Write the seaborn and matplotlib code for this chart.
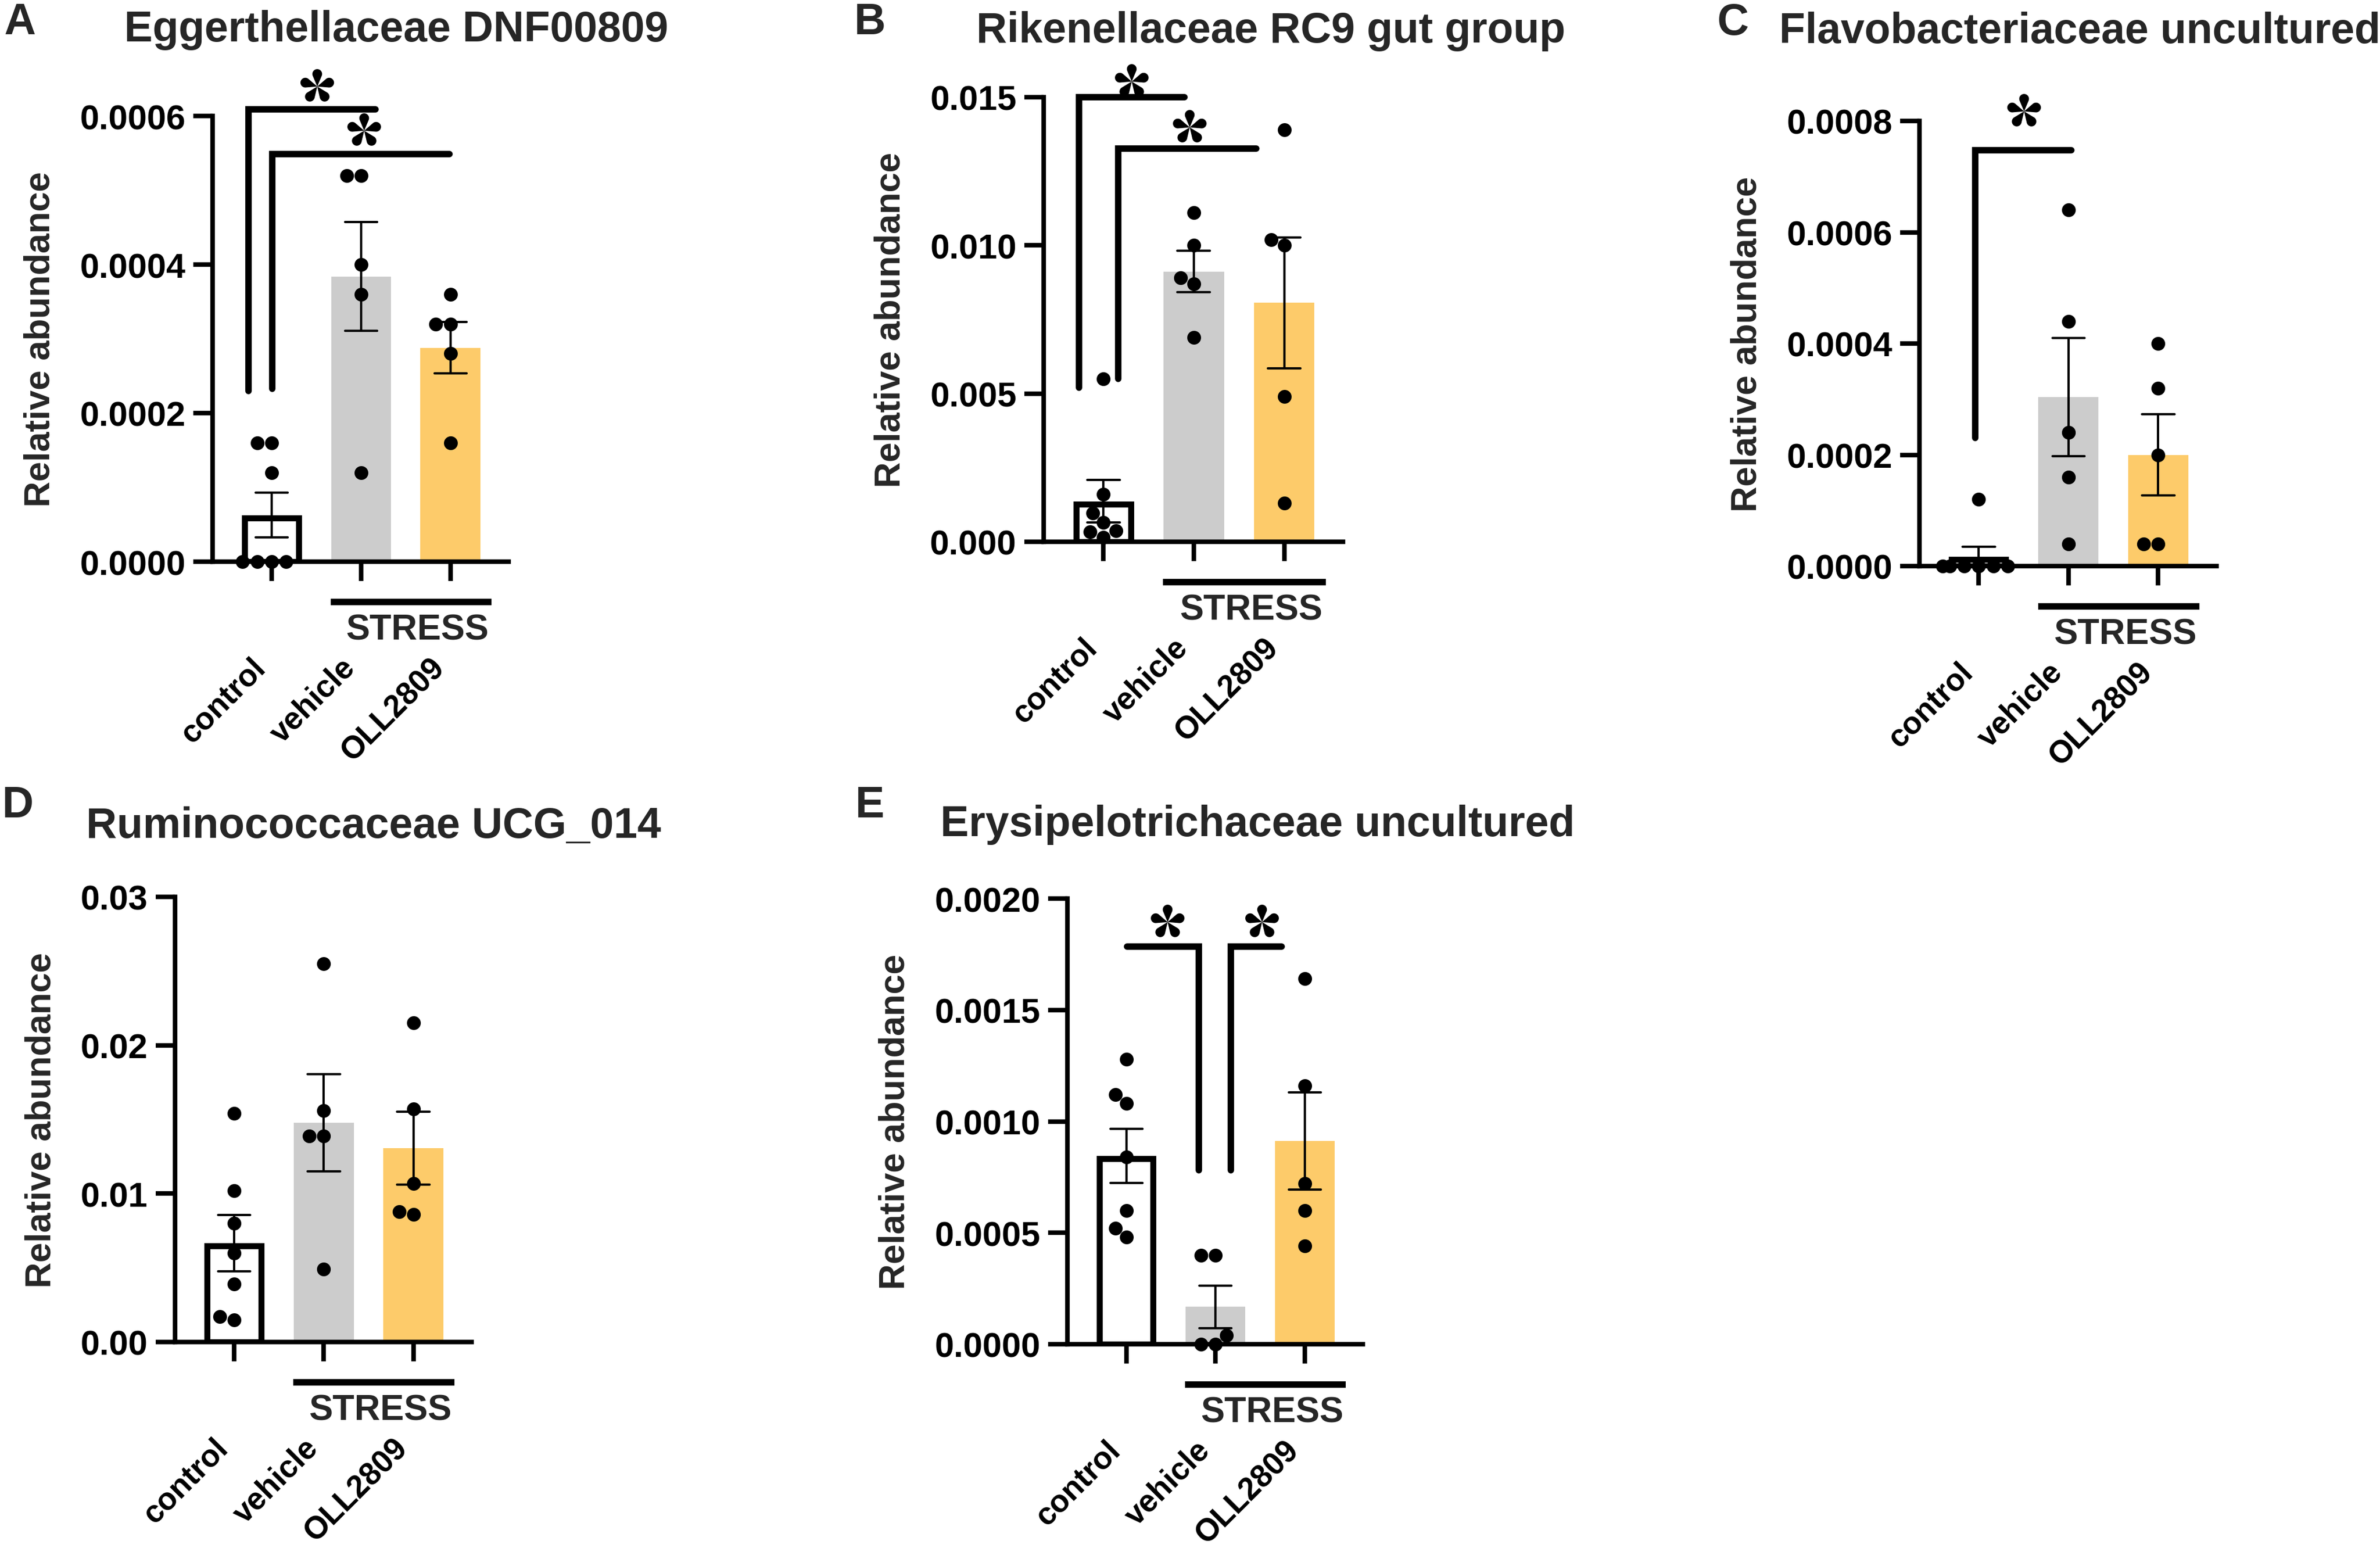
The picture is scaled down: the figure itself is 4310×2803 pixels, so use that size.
import numpy as np
import pandas as pd
import matplotlib
matplotlib.use("Agg")
import matplotlib.pyplot as plt
import seaborn as sns
from matplotlib.path import Path
from matplotlib.transforms import ScaledTranslation
from matplotlib.ticker import FormatStrFormatter

sns.set_style("ticks")
plt.rcParams["font.family"] = ["Liberation Sans", "DejaVu Sans"]
plt.rcParams["font.weight"] = "bold"
plt.rcParams["axes.labelweight"] = "bold"

groups = ["control", "vehicle", "OLL2809"]
bar_colors = {"control": "white", "vehicle": "#cccccc", "OLL2809": "#fdcb6a"}

# relative abundance per mouse
eggerth_control = [0, 0, 0, 0, 0.00012, 0.00016, 0.00016]
eggerth_vehicle = [0.00052, 0.00052, 0.0004, 0.00036, 0.00012]
eggerth_oll = [0.00036, 0.00032, 0.00032, 0.00028, 0.00016]

rikenell_control = [0.0055, 0.0016, 0.00097, 0.00065, 0.00037, 0.00034, 0.00015]
rikenell_vehicle = [0.0111, 0.0100, 0.0089, 0.0087, 0.0069]
rikenell_oll = [0.0139, 0.0102, 0.0100, 0.0049, 0.0013]

flavo_control = [0.00012, 0, 0, 0, 0, 0, 0]
flavo_vehicle = [0.00064, 0.00044, 0.00024, 0.00016, 0.00004]
flavo_oll = [0.0004, 0.00032, 0.0002, 0.00004, 0.00004]

rumino_control = [0.0154, 0.0102, 0.0080, 0.0060, 0.0039, 0.0017, 0.0015]
rumino_vehicle = [0.0255, 0.0156, 0.0139, 0.0139, 0.0049]
rumino_oll = [0.0215, 0.0157, 0.0107, 0.0088, 0.0086]

erysip_control = [0.00128, 0.00112, 0.00108, 0.00084, 0.0006, 0.00052, 0.00048]
erysip_vehicle = [0.0004, 0.0004, 0.00004, 0, 0]
erysip_oll = [0.00164, 0.00116, 0.00072, 0.0006, 0.00044]

W, H, DPI = 4310, 2804, 300

# significance brackets: (polyline xs, polyline ys, star x, star y)
panels = [
    dict(letter="A", title="Eggerthellaceae DNF00809",
         values=[eggerth_control, eggerth_vehicle, eggerth_oll],
         yticks=[0, 0.0002, 0.0004, 0.0006], fmt="%.4f",
         box=(385, 211, 921, 1018), title_xy=(718, 75), letter_xy=(36, 62),
         brackets=[([-0.26, -0.26, 1.16], [0.00023, 0.000609, 0.000609], 0.51, 0.000642),
                   ([0.01, 0.01, 1.99], [0.000233, 0.000549, 0.000549], 1.03, 0.000582)]),
    dict(letter="B", title="Rikenellaceae RC9 gut group",
         values=[rikenell_control, rikenell_vehicle, rikenell_oll],
         yticks=[0, 0.005, 0.010, 0.015], fmt="%.3f",
         box=(1890, 177, 2432, 982), title_xy=(2301, 77), letter_xy=(1575, 62),
         brackets=[([-0.27, -0.27, 0.90], [0.0052, 0.015, 0.015], 0.31, 0.01558),
                   ([0.165, 0.165, 1.69], [0.0055, 0.01327, 0.01327], 0.95, 0.01404)]),
    dict(letter="C", title="Flavobacteriaceae uncultured",
         values=[flavo_control, flavo_vehicle, flavo_oll],
         yticks=[0, 0.0002, 0.0004, 0.0006, 0.0008], fmt="%.4f",
         box=(3476, 220, 4014, 1026), title_xy=(3766, 78), letter_xy=(3138, 63),
         brackets=[([-0.04, -0.04, 1.03], [0.00023, 0.000747, 0.000747], 0.50, 0.00082)]),
    dict(letter="D", title="Ruminococcaceae UCG_014",
         values=[rumino_control, rumino_vehicle, rumino_oll],
         yticks=[0, 0.01, 0.02, 0.03], fmt="%.2f",
         box=(317, 1625, 854, 2431), title_xy=(677, 1517), letter_xy=(32, 1480),
         brackets=[]),
    dict(letter="E", title="Erysipelotrichaceae uncultured",
         values=[erysip_control, erysip_vehicle, erysip_oll],
         yticks=[0, 0.0005, 0.0010, 0.0015, 0.0020], fmt="%.4f",
         box=(1933, 1628, 2468, 2435), title_xy=(2277, 1514), letter_xy=(1575, 1480),
         brackets=[([0.01, 0.81, 0.81], [0.001784, 0.001784, 0.00078], 0.46, 0.0019),
                   ([1.17, 1.17, 1.74], [0.00078, 0.001784, 0.001784], 1.52, 0.0019)]),
]


def petal_star(n=5, d=0.72, rad=0.28, npts=32):
    # asterisk built from teardrop petals, centred on its bounding box
    verts, codes = [], []
    a = np.arcsin(rad / d)
    for k in range(n):
        th = np.pi / 2 + 2 * np.pi * k / n
        c = d * np.array([np.cos(th), np.sin(th)])
        phis = np.linspace(th - np.pi / 2 - a, th + np.pi / 2 + a, npts)
        arc = c + rad * np.column_stack([np.cos(phis), np.sin(phis)])
        pts = [(0.0, 0.0)] + [tuple(q) for q in arc] + [(0.0, 0.0)]
        verts += pts
        codes += [Path.MOVETO] + [Path.LINETO] * (len(pts) - 2) + [Path.CLOSEPOLY]
    verts = np.array(verts)
    centre = (verts.min(axis=0) + verts.max(axis=0)) / 2
    return Path(verts - centre, codes)


star = petal_star()

fig = plt.figure(figsize=(W / DPI, H / DPI), dpi=DPI)

for p in panels:
    l, t, r, b = p["box"]
    ax = fig.add_axes([l / W, 1 - b / H, (r - l) / W, (b - t) / H])
    df = pd.DataFrame({
        "group": np.repeat(groups, [len(v) for v in p["values"]]),
        "value": np.concatenate(p["values"]),
    })
    ymax = p["yticks"][-1]

    sns.barplot(data=df, x="group", y="value", hue="group", order=groups, hue_order=groups,
                palette=bar_colors, saturation=1, width=0.67, errorbar="se", capsize=0.36,
                err_kws={"color": "black", "linewidth": 1.0}, legend=False, ax=ax)
    half_lw_px = 2.6 / 72 * DPI / 2
    dx = half_lw_px / ((r - l) / 3.31)
    dy = half_lw_px / (b - t) * ymax
    for bar in ax.patches:
        cx = bar.get_x() + bar.get_width() / 2
        if abs(cx) < 0.1:
            bar.set_edgecolor("black")
            bar.set_linewidth(2.6)
            bar.set_x(bar.get_x() + dx)
            bar.set_width(bar.get_width() - 2 * dx)
            bar.set_height(bar.get_height() - dy)
        else:
            bar.set_linewidth(0)

    sns.swarmplot(data=df, x="group", y="value", order=groups, color="black",
                  size=6.0, ax=ax, zorder=4)
    for coll in ax.collections:
        coll.set_clip_on(False)

    ax.set_xlim(-0.66, 2.65)
    ax.set_ylim(0, ymax)
    ax.set_yticks(p["yticks"])
    ax.yaxis.set_major_formatter(FormatStrFormatter(p["fmt"]))
    ax.set_xticks(range(3))
    ax.set_xticklabels(groups, rotation=45, ha="right", fontsize=13.6, fontweight="bold")
    shift = ScaledTranslation(1.5 / 72, 0, fig.dpi_scale_trans)
    for lab in ax.get_xticklabels():
        lab.set_transform(lab.get_transform() + shift)
    ax.set_xlabel("")
    ax.set_ylabel("Relative abundance", fontsize=15.5, fontweight="bold", labelpad=10)
    ax.tick_params(axis="x", length=8.4, width=2, pad=31, colors="black")
    ax.tick_params(axis="y", length=8.4, width=2, pad=3.4, labelsize=15, colors="black")
    sns.despine(ax=ax)
    for side in ["left", "bottom"]:
        ax.spines[side].set_linewidth(2)
        ax.spines[side].set_color("black")

    # STRESS group line under vehicle + OLL2809
    base = ax.get_xaxis_transform()
    ax.plot([0.66, 2.46], [0, 0], color="black", lw=2.8, clip_on=False, solid_capstyle="butt",
            transform=base + ScaledTranslation(0, -17.5 / 72, fig.dpi_scale_trans))
    ax.text(1.63, 0, "STRESS", ha="center", va="baseline", fontsize=15.5, fontweight="bold",
            transform=base + ScaledTranslation(0, -33.8 / 72, fig.dpi_scale_trans))

    for xs, ys, sx, sy in p["brackets"]:
        ax.plot(xs, ys, color="black", lw=2.8, clip_on=False,
                solid_capstyle="round", solid_joinstyle="miter")
        ax.plot([sx], [sy], marker=star, markersize=14.6, color="black",
                markeredgewidth=0, linestyle="none", clip_on=False)

    fig.text(p["title_xy"][0] / W, 1 - p["title_xy"][1] / H, p["title"], ha="center",
             va="baseline", fontsize=18.5, fontweight="bold")
    fig.text(p["letter_xy"][0] / W, 1 - p["letter_xy"][1] / H, p["letter"], ha="center",
             va="baseline", fontsize=19, fontweight="bold")

fig.savefig("out.png", dpi=DPI)
